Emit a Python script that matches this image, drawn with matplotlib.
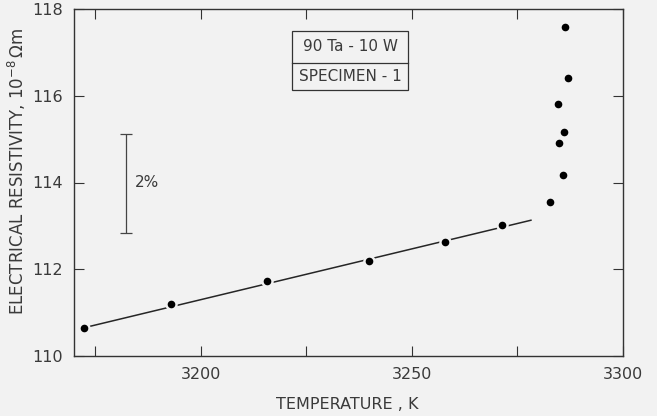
import matplotlib
matplotlib.use('Agg')
import matplotlib.pyplot as plt
from matplotlib.patches import Rectangle

# data
temp = [3172.4, 3193.0, 3215.6, 3239.9, 3257.8, 3271.4, 3282.8,
        3284.7, 3286.1, 3284.8, 3285.9, 3287.0, 3286.3]
resist = [110.65, 111.21, 111.74, 112.19, 112.62, 113.03, 113.54,
          115.82, 115.17, 114.90, 114.17, 116.41, 117.58]
fit_t = [3173.6, 3278.2]
fit_r = [110.68, 113.13]
bar_t = 3182.3
bar_r = [112.83, 115.12]

bg = '#f2f2f2'
ink = '#262626'
txt = '#3a3a3a'
plt.rcParams['font.family'] = ['DejaVu Sans']

fig = plt.figure(figsize=(6.57, 4.16), dpi=100, facecolor=bg)
ax = fig.add_axes([74/657, 60/416, 549/657, 347/416], facecolor=bg)

ax.plot(fit_t, fit_r, c=ink, lw=1.1)
ax.plot(temp, resist, 'o', c=bg, ms=9, mew=0)
ax.plot(temp, resist, 'o', c='black', ms=5.5, mew=0)

# 2% scale bar
ax.errorbar([bar_t], [sum(bar_r)/2], yerr=[(bar_r[1]-bar_r[0])/2], c='#444444',
            lw=0.9, capsize=4, capthick=0.9)
ax.text(bar_t + 2.1, 113.99, '2%', fontsize=11, color=txt, va='center')

# label box
ax.add_patch(Rectangle((0.3965, 0.7666), 0.2125, 0.1709, transform=ax.transAxes,
                       fill=False, ec='#333333', lw=0.9))
ax.plot([0.3965, 0.609], [0.845, 0.845], transform=ax.transAxes, c='#333333', lw=0.9)
ax.text(0.503, 0.893, '90 Ta - 10 W', transform=ax.transAxes, ha='center', va='center',
        fontsize=11, color=txt)
ax.text(0.503, 0.806, 'SPECIMEN - 1', transform=ax.transAxes, ha='center', va='center',
        fontsize=11, color=txt)

ax.set_xlim(3170, 3300)
ax.set_ylim(110, 118)
ax.set_xticks([3175, 3200, 3225, 3250, 3275, 3300])
ax.set_xticklabels(['', '3200', '', '3250', '', '3300'])
ax.set_yticks([110, 112, 114, 116, 118])
ax.tick_params(direction='in', length=7, width=0.8, color='#333333', top=True, right=True,
               labelsize=11.5, labelcolor=txt, pad=8)
for s in ax.spines.values():
    s.set_color('#333333')
    s.set_linewidth(1.0)

ax.set_xlabel('TEMPERATURE , K', fontsize=11.5, color=txt)
ax.xaxis.set_label_coords(0.497, -0.118)
ax.set_ylabel('ELECTRICAL RESISTIVITY, $10^{-8}\\,\\Omega$m', fontsize=12,
              color=txt)
ax.yaxis.set_label_coords(-0.083, 0.532)

fig.savefig('out.png', dpi=100, facecolor=bg)
